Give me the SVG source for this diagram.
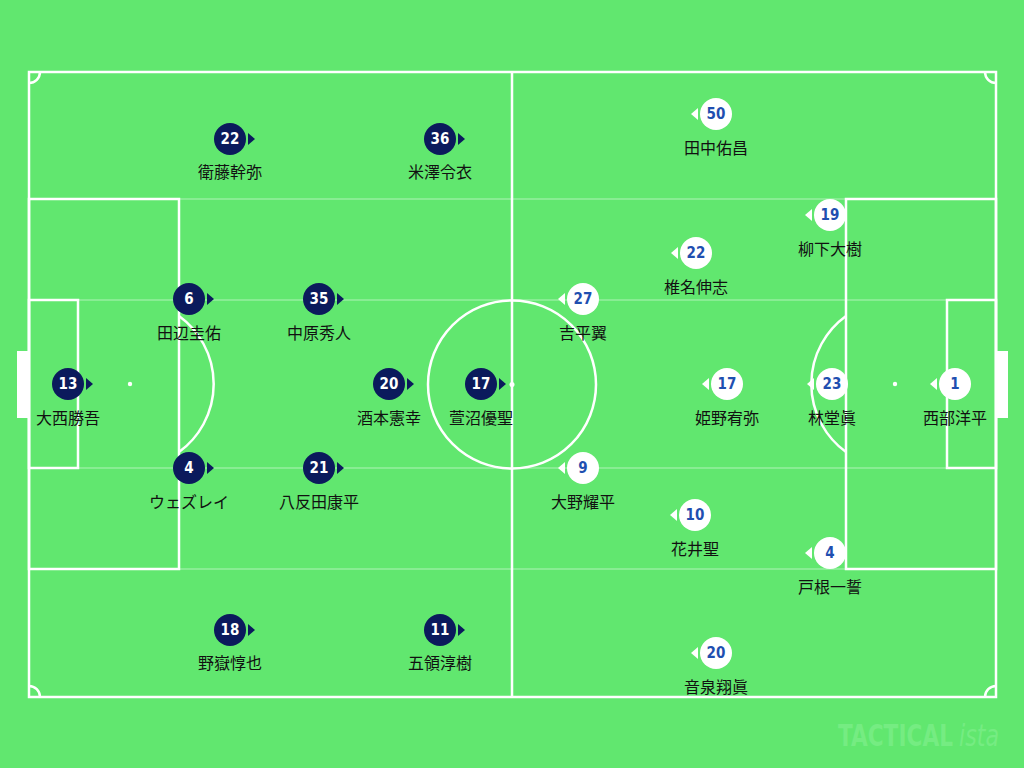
<svg xmlns="http://www.w3.org/2000/svg" width="1024" height="768" viewBox="0 0 1024 768">
<style>
.ln{fill:none;stroke:#fff;stroke-width:2.5}
.fl{stroke:#fff;stroke-opacity:0.25;stroke-width:2}
.nm{font-family:"Noto Sans CJK JP","Noto Sans",sans-serif;font-size:16px;fill:#111;text-anchor:middle}
.num{font-family:"DejaVu Sans Condensed","Roboto",sans-serif;font-size:15px;font-weight:bold;text-anchor:middle}
.h use{fill:#0b1a5c}
.h .num{fill:#fff}
.a use{fill:#fff}
.a .num{fill:#1f4fb0}
.wm{font-family:"DejaVu Sans Condensed",sans-serif;font-size:31px;fill:#75ec82}
</style>
<defs>
<g id="hm"><circle r="16"/><path d="M18,-6 L25,0 L18,6 Z"/></g>
<g id="am"><circle r="16"/><path d="M-18,-6 L-25,0 L-18,6 Z"/></g>
</defs>
<rect width="1024" height="768" fill="#61e76f"/>
<g id="pitch">
<line class="fl" x1="29" y1="199" x2="996" y2="199"/>
<line class="fl" x1="29" y1="300" x2="996" y2="300"/>
<line class="fl" x1="29" y1="468" x2="996" y2="468"/>
<line class="fl" x1="29" y1="569" x2="996" y2="569"/>
<rect class="ln" x="29" y="72" width="967" height="625"/>
<line class="ln" x1="512" y1="72" x2="512" y2="697"/>
<circle class="ln" cx="512" cy="384.5" r="84"/>
<circle cx="512" cy="384.5" r="2.5" fill="#fff"/>
<rect class="ln" x="29" y="199" width="150" height="370"/>
<rect class="ln" x="29" y="300" width="49" height="168"/>
<rect class="ln" x="846" y="199" width="150" height="370"/>
<rect class="ln" x="947" y="300" width="49" height="168"/>
<rect x="17" y="351" width="11" height="67" fill="#fff"/>
<rect x="997" y="351" width="11" height="67" fill="#fff"/>
<circle cx="130" cy="384" r="2.2" fill="#fff"/>
<circle cx="895" cy="384" r="2.2" fill="#fff"/>
<path class="ln" d="M179,316 A84,84 0 0 1 179,452"/>
<path class="ln" d="M846,316 A84,84 0 0 0 846,452"/>
<path class="ln" d="M29,83 A11,11 0 0 0 40,72"/>
<path class="ln" d="M985,72 A11,11 0 0 0 996,83"/>
<path class="ln" d="M29,686 A11,11 0 0 1 40,697"/>
<path class="ln" d="M985,697 A11,11 0 0 1 996,686"/>
</g>
<text class="wm" x="838" y="746" textLength="115" lengthAdjust="spacingAndGlyphs" font-weight="bold">TACTICAL</text>
<text class="wm" x="959" y="746" textLength="40" lengthAdjust="spacingAndGlyphs" font-style="italic">ista</text>
<g id="connectors"></g>
<g id="home">
<g id="h13" class="h" transform="translate(68,384)"><use href="#hm"/><text class="num" y="5">13</text><text class="nm" y="40">大西勝吾</text></g>
<g id="h6" class="h" transform="translate(189,299)"><use href="#hm"/><text class="num" y="5">6</text><text class="nm" y="40">田辺圭佑</text></g>
<g id="h4" class="h" transform="translate(189,468)"><use href="#hm"/><text class="num" y="5">4</text><text class="nm" y="40">ウェズレイ</text></g>
<g id="h35" class="h" transform="translate(319,299)"><use href="#hm"/><text class="num" y="5">35</text><text class="nm" y="40">中原秀人</text></g>
<g id="h21" class="h" transform="translate(319,468)"><use href="#hm"/><text class="num" y="5">21</text><text class="nm" y="40">八反田康平</text></g>
<g id="h22" class="h" transform="translate(230,139)"><use href="#hm"/><text class="num" y="5">22</text><text class="nm" y="39">衛藤幹弥</text></g>
<g id="h18" class="h" transform="translate(230,630)"><use href="#hm"/><text class="num" y="5">18</text><text class="nm" y="39">野嶽惇也</text></g>
<g id="h36" class="h" transform="translate(440,139)"><use href="#hm"/><text class="num" y="5">36</text><text class="nm" y="39">米澤令衣</text></g>
<g id="h11" class="h" transform="translate(440,630)"><use href="#hm"/><text class="num" y="5">11</text><text class="nm" y="39">五領淳樹</text></g>
<g id="h20" class="h" transform="translate(389,384)"><use href="#hm"/><text class="num" y="5">20</text><text class="nm" y="40">酒本憲幸</text></g>
<g id="h17" class="h" transform="translate(481,384)"><use href="#hm"/><text class="num" y="5">17</text><text class="nm" y="40">萱沼優聖</text></g>
</g>
<g id="away">
<g id="a50" class="a" transform="translate(716,114)"><use href="#am"/><text class="num" y="5">50</text><text class="nm" y="40">田中佑昌</text></g>
<g id="a19" class="a" transform="translate(830,215)"><use href="#am"/><text class="num" y="5">19</text><text class="nm" y="40">柳下大樹</text></g>
<g id="a22" class="a" transform="translate(696,253)"><use href="#am"/><text class="num" y="5">22</text><text class="nm" y="40">椎名伸志</text></g>
<g id="a27" class="a" transform="translate(583,299)"><use href="#am"/><text class="num" y="5">27</text><text class="nm" y="40">吉平翼</text></g>
<g id="a17" class="a" transform="translate(727,384)"><use href="#am"/><text class="num" y="5">17</text><text class="nm" y="40">姫野宥弥</text></g>
<g id="a23" class="a" transform="translate(832,384)"><use href="#am"/><text class="num" y="5">23</text><text class="nm" y="40">林堂眞</text></g>
<g id="a1" class="a" transform="translate(955,384)"><use href="#am"/><text class="num" y="5">1</text><text class="nm" y="40">西部洋平</text></g>
<g id="a9" class="a" transform="translate(583,468)"><use href="#am"/><text class="num" y="5">9</text><text class="nm" y="40">大野耀平</text></g>
<g id="a10" class="a" transform="translate(695,515)"><use href="#am"/><text class="num" y="5">10</text><text class="nm" y="40">花井聖</text></g>
<g id="a4" class="a" transform="translate(830,553)"><use href="#am"/><text class="num" y="5">4</text><text class="nm" y="40">戸根一誓</text></g>
<g id="a20" class="a" transform="translate(716,653)"><use href="#am"/><text class="num" y="5">20</text><text class="nm" y="40">音泉翔眞</text></g>
</g>
</svg>
